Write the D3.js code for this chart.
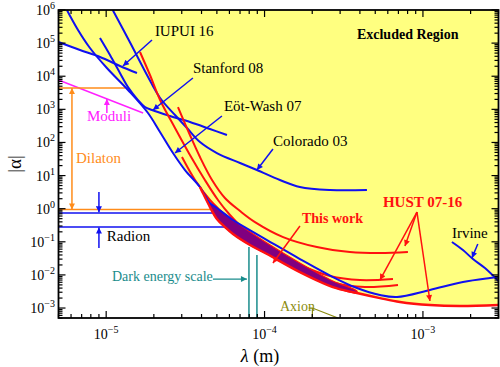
<!DOCTYPE html>
<html><head><meta charset="utf-8">
<script src="https://cdn.jsdelivr.net/npm/d3@7"></script>
<style>
body{margin:0;background:#fff}
svg{display:block}
</style>
</head><body>
<svg id="c" width="500" height="367" font-family="Liberation Serif, DejaVu Serif, serif"></svg>
<script>
// ---------------- data (lambda in m, |alpha|) ----------------
const iupui16 = [[5e-6,1.08e5],[6.83e-6,6.19e4],[9.14e-6,3.81e4],[1.222e-5,2.04e4],[1.565e-5,1.25e4]];
const eotWash07 = [[5.65e-6,1e6],[6.64e-6,2.49e5],[7.9e-6,7.11e4],[1.01e-5,1.77e4],[1.373e-5,3.84e3],[1.836e-5,774],[2.186e-5,207],[2.641e-5,48],[3.145e-5,14.7],[3.91e-5,4.51],[4.52e-5,1.48],[5.0e-5,1.05],[6.32e-5,0.455],[7.3e-5,0.299],[1.036e-4,0.113],[1.673e-4,0.0302],[2.703e-4,0.00863],[3.831e-4,0.00402],[5.35e-4,0.00247],[6.86e-4,0.00215],[1.107e-3,0.0035],[1.789e-3,0.0061],[2.649e-3,0.00805],[3e-3,0.00863]];
const colorado03 = [[1.1e-5,1e6],[1.41e-5,1.08e5],[1.81e-5,1.09e4],[2.19e-5,2.2e3],[2.72e-5,674],[3.24e-5,273],[3.91e-5,103],[5.0e-5,48],[7.0e-5,23.9],[8.95e-5,14.7],[1.25e-4,7.35],[1.67e-4,4.51],[2.59e-4,3.66],[4.43e-4,3.66]];
const stanford08 = [[9.14e-6,1.43e5],[1.057e-5,4.38e4],[1.222e-5,1.25e4],[1.373e-5,4.7e3],[1.588e-5,1.91e3],[1.758e-5,1.18e3],[1.946e-5,955],[2.528e-5,629],[3.381e-5,414],[4.522e-5,255],[5.789e-5,168]];
const irvine = [[1.524e-3,0.0985],[1.789e-3,0.0564],[2.069e-3,0.0302],[2.463e-3,0.0161],[3e-3,0.0065]];
const hustA = [[2.84e-5,1175],[3.38e-5,168],[3.91e-5,36.3],[4.66e-5,7.35],[5.62e-5,2.1],[7.0e-5,0.85],[8.7e-5,0.395],[1.31e-4,0.139],[2.14e-4,0.0695],[3.46e-4,0.0491],[5.35e-4,0.0458],[8.04e-4,0.0491]];
const hustB = [[1.635e-5,5.39e4],[1.89e-5,1.09e4],[2.19e-5,1914],[2.72e-5,273],[3.38e-5,41.8],[4.2e-5,7.35],[5.08e-5,1.83],[6.05e-5,0.643],[8.09e-5,0.16],[1.08e-4,0.0564],[1.67e-4,0.0199],[2.59e-4,0.00925],[4.0e-4,0.0070],[6.47e-4,0.00752]];
const hustC = [[3.01e-5,36.3],[3.64e-5,7.35],[4.52e-5,1.83],[5.62e-5,0.643],[6.7e-5,0.26],[9.35e-5,0.08],[1.67e-4,0.0161],[2.78e-4,0.0057],[4.3e-4,0.0043],[6.96e-4,0.00495]];
const thisWork = [[3.91e-5,4.51],[4.08e-5,2.97],[4.52e-5,1.12],[5.0e-5,0.487],[5.62e-5,0.279],[6.32e-5,0.172],[8.09e-5,0.08],[1.036e-4,0.0428],[1.67e-4,0.0122],[2.7e-4,0.0043],[3.83e-4,0.00284],[5.35e-4,0.002],[7.16e-4,0.00152],[1.107e-3,0.00123],[1.71e-3,0.00115],[3e-3,0.00123]];
const bandTop = [[4.08e-5,2.97],[4.52e-5,1.48],[5.0e-5,1.05],[6.32e-5,0.455],[7.3e-5,0.279],[1.036e-4,0.0918],[1.67e-4,0.0229],[2.7e-4,0.00653],[3.83e-4,0.00326]];
const allowedBoundary = [[5e-6,1.08e5],[6.83e-6,6.19e4],[8.75e-6,4.08e4],[1.01e-5,1.77e4],[1.373e-5,3.84e3],[1.836e-5,774],[2.186e-5,207],[2.641e-5,48],[3.145e-5,14.7],[3.91e-5,4.51],[4.08e-5,2.97],[4.52e-5,1.12],[5.0e-5,0.487],[5.62e-5,0.279],[6.32e-5,0.172],[8.09e-5,0.08],[1.036e-4,0.0428],[1.67e-4,0.0122],[2.7e-4,0.0043],[3.83e-4,0.00284],[5.35e-4,0.002],[7.16e-4,0.00152],[1.107e-3,0.00123],[1.71e-3,0.00115],[3e-3,0.00123]];
const moduli = [[5e-6,7.7e3],[1.71e-5,774]];
const dilatonRange = [4.4e3, 0.95];
const dilatonLambda = [6.08e-6, 1.314e-5, 4.9e-5];
const radionLevels = [0.74, 0.279];
const radionEnds = [5.08e-5, 5.87e-5];
const darkEnergyLambda = [7.97e-5, 8.95e-5];
const darkEnergyTop = [0.0695, 0.0399];
const axion = [[1.9e-4,1e-3],[2.005e-4,1e-3],[2.91e-4,5e-4]];
const axionStem = [[2.005e-4,1e-3],[2.005e-4,5e-4]];
const xTickExps = ["\u22125","\u22124","\u22123"];
const yTickExps = ["\u22123","\u22122","\u22121","0","1","2","3","4","5","6"];

// ---------------- setup ----------------
const svg = d3.select("#c");
const X0=58.5, X1=498.5, Y0=318, Y1=10;
const x = d3.scaleLog().domain([5e-6,3e-3]).range([X0,X1]);
const y = d3.scaleLog().domain([5e-4,1e6]).range([Y0,Y1]);

const C = {yellow:"#ffff80", blue:"#1010f0", red:"#ff1010", purple:"#800080",
  orange:"#ff8c1a", magenta:"#ff20ff", teal:"#1a8c8c", olive:"#8c8c10"};

const defs = svg.append("defs");
defs.append("clipPath").attr("id","clip").append("rect")
  .attr("x",X0).attr("y",Y1).attr("width",X1-X0).attr("height",Y0-Y1);
Object.entries(C).forEach(([k,col])=>{
  defs.append("marker").attr("id","ah-"+k).attr("viewBox","0 0 10 10")
    .attr("refX",10).attr("refY",5).attr("markerUnits","userSpaceOnUse")
    .attr("markerWidth",9).attr("markerHeight",6).attr("orient","auto-start-reverse")
    .append("path").attr("d","M0,0L10,5L0,10z").attr("fill",col);
});

const crv = d3.curveCatmullRom.alpha(0.5);
const line = d3.line().x(d=>x(d[0])).y(d=>y(d[1])).curve(crv);
const plot = svg.append("g").attr("clip-path","url(#clip)");

// excluded region
plot.append("rect").attr("x",X0).attr("y",Y1).attr("width",X1-X0).attr("height",Y0-Y1).attr("fill",C.yellow);
plot.append("path").datum(allowedBoundary)
  .attr("d", d3.area().x(d=>x(d[0])).y0(Y0+2).y1(d=>y(d[1])).curve(crv))
  .attr("fill","#fff");

// theory lines
const seg = (pts,col,w)=>plot.append("path").datum(pts).attr("d",d3.line().x(d=>x(d[0])).y(d=>y(d[1])))
  .attr("fill","none").attr("stroke",col).attr("stroke-width",w||1.5);
seg(moduli, C.magenta, 1.5);
seg([[5e-6,dilatonRange[0]],[dilatonLambda[1],dilatonRange[0]]], C.orange, 1.5);
seg([[5e-6,dilatonRange[1]],[dilatonLambda[2],dilatonRange[1]]], C.orange, 1.5);
radionLevels.forEach((a,i)=>seg([[5e-6,a],[radionEnds[i],a]], C.blue, 1.5));
darkEnergyLambda.forEach((l,i)=>seg([[l,darkEnergyTop[i]],[l,5e-4]], C.teal, 1.5));
seg(axion, C.olive, 1.2);
seg(axionStem, C.olive, 1.2);

// experimental curves
const curve = (pts,col,w)=>plot.append("path").datum(pts).attr("d",line)
  .attr("fill","none").attr("stroke",col).attr("stroke-width",w||2).attr("stroke-linejoin","round");
[iupui16, stanford08, colorado03, irvine].forEach(p=>curve(p,C.blue,2));
[hustA, hustB, hustC].forEach(p=>curve(p,C.red,2));
const bandBottom = thisWork.filter(d=>d[0]<=3.9e-4);
plot.append("path").datum(bandTop.concat(bandBottom.slice().reverse()))
  .attr("d", d3.line().x(d=>x(d[0])).y(d=>y(d[1])).curve(d3.curveCatmullRomClosed.alpha(0.5)))
  .attr("fill",C.purple).attr("stroke",C.red).attr("stroke-width",1.2);
curve(eotWash07, C.blue, 2);
curve(thisWork, C.red, 2.4);

// ---------------- frame & ticks ----------------
const ax = svg.append("g");
const isMajor = v => Math.abs(Math.log10(v)-Math.round(Math.log10(v)))<1e-9;
const minorTicks = (dom)=>{const out=[];for(let e=-7;e<=7;e++)for(let k=1;k<=9;k++){const v=k*Math.pow(10,e);if(v>=dom[0]*0.999&&v<=dom[1]*1.001)out.push(v);}return out;};
minorTicks(x.domain()).forEach(v=>{
  const L = isMajor(v)?7:4, px=x(v);
  ax.append("line").attr("x1",px).attr("x2",px).attr("y1",Y0).attr("y2",Y0-L).attr("stroke","#000").attr("stroke-width",1.2);
  ax.append("line").attr("x1",px).attr("x2",px).attr("y1",Y1).attr("y2",Y1+L).attr("stroke","#000").attr("stroke-width",1.2);
});
minorTicks(y.domain()).forEach(v=>{
  const L = isMajor(v)?7:4, py=y(v);
  ax.append("line").attr("y1",py).attr("y2",py).attr("x1",X0).attr("x2",X0+L).attr("stroke","#000").attr("stroke-width",1.2);
  ax.append("line").attr("y1",py).attr("y2",py).attr("x1",X1).attr("x2",X1-L).attr("stroke","#000").attr("stroke-width",1.2);
});
ax.append("rect").attr("x",X0).attr("y",Y1).attr("width",X1-X0).attr("height",Y0-Y1)
  .attr("fill","none").attr("stroke","#000").attr("stroke-width",1.8);

xTickExps.forEach(e=>{
  const v=Math.pow(10,+e.replace("\u2212","-"));
  const t=svg.append("text").attr("x",x(v)).attr("y",339).attr("text-anchor","middle").attr("font-size",14);
  t.append("tspan").text("10");
  t.append("tspan").attr("dy",-6).attr("font-size",10).text(e);
});
yTickExps.forEach(e=>{
  const v=Math.pow(10,+e.replace("\u2212","-"));
  const t=svg.append("text").attr("x",55).attr("y",y(v)+5).attr("text-anchor","end").attr("font-size",14);
  t.append("tspan").text("10");
  t.append("tspan").attr("dy",-6).attr("font-size",10).text(e);
});
const xt = svg.append("text").attr("x",260).attr("y",362).attr("text-anchor","middle").attr("font-size",18);
xt.append("tspan").attr("font-style","italic").text("\u03bb");
xt.append("tspan").text(" (m)");
svg.append("text").attr("transform","translate(21,164) rotate(-90)").attr("text-anchor","middle")
  .attr("font-size",19).text("|\u03b1|");

// ---------------- annotations ----------------
const ann = svg.append("g");
const label = (l,a,txt,col,opts={})=>ann.append("text").attr("x",x(l)).attr("y",y(a))
  .attr("fill",col).attr("font-size",opts.size||15).attr("font-weight",opts.bold?"bold":null)
  .attr("text-anchor",opts.anchor||"start").text(txt);
const arrow = (p0,p1,colKey,w,both)=>ann.append("line")
  .attr("x1",x(p0[0])).attr("y1",y(p0[1])).attr("x2",x(p1[0])).attr("y2",y(p1[1]))
  .attr("stroke",C[colKey]).attr("stroke-width",w||1.5)
  .attr("marker-end","url(#ah-"+colKey+")").attr("marker-start",both?"url(#ah-"+colKey+")":null);

label(2.03e-5,1.64e5,"IUPUI 16","#000");
arrow([1.946e-5,1.24e5],[1.276e-5,2.04e4],"blue");
label(3.53e-5,1.25e4,"Stanford 08","#000");
arrow([3.53e-5,8.83e3],[1.975e-5,955],"blue");
label(5.54e-5,891,"E\u00f6t-Wash 07","#000");
arrow([5.38e-5,629],[2.72e-5,48],"blue");
label(1.13e-4,78.1,"Colorado 03","#000");
arrow([1.13e-4,63.4],[8.95e-5,14.7],"blue");
label(3.83e-4,1.33e5,"Excluded Region","#000",{bold:true,size:14});
label(7.56e-6,444,"Moduli",C.magenta);
arrow([1.01e-5,774],[1.01e-5,2051],"magenta");
label(6.45e-6,23.9,"Dilaton",C.orange);
arrow([dilatonLambda[0],dilatonRange[0]],[dilatonLambda[0],dilatonRange[1]],"orange",1.5,true);
arrow([9.0e-6,3.18],[9.0e-6,0.78],"blue");
arrow([9.0e-6,0.0649],[9.0e-6,0.27],"blue");
label(1.01e-5,0.1055,"Radion","#000");
label(1.088e-5,0.00653,"Dark energy scale",C.teal,{size:14});
arrow([4.72e-5,0.0075],[7.74e-5,0.0075],"teal",1.2);
label(1.251e-4,8.1e-4,"Axion",C.olive,{size:14});
label(1.722e-4,0.369,"This work",C.red,{bold:true,size:14});
arrow([1.673e-4,0.299],[1.13e-4,0.0229],"red");
label(5.59e-4,1.122,"HUST 07-16",C.red,{bold:true,size:15});
arrow([9.17e-4,0.792],[7.7e-4,0.0745],"red");
arrow([9.17e-4,0.792],[5.35e-4,0.0070],"red");
arrow([9.17e-4,0.792],[1.107e-3,0.00163],"red");
label(1.524e-3,0.13,"Irvine","#000");
arrow([2.22e-3,0.0854],[2.04e-3,0.0327],"blue");
</script>
</body></html>
